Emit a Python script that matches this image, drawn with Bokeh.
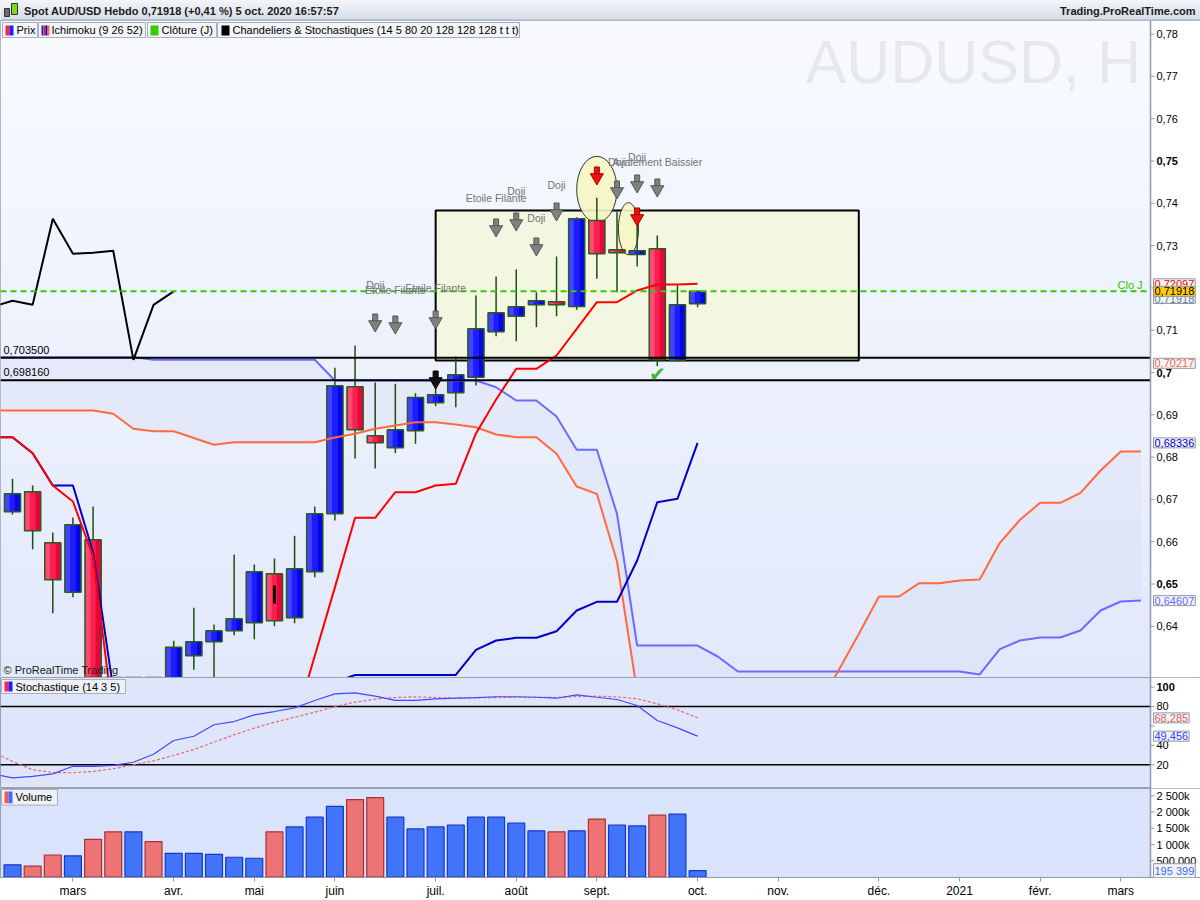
import numpy as np
from bokeh.plotting import figure
from bokeh.models import Range1d, FixedTicker, Label, BoxAnnotation
from bokeh.layouts import column
from bokeh.embed import file_html
from bokeh.resources import INLINE
from bokeh.core.properties import value

# ------------------------------------------------------------------ DATA
weeks = list(range(35))
opens = [0.66707, 0.67180, 0.65974, 0.64806, 0.66045, 0.62150, 0.58000, 0.61400, 0.60300, 0.63303,
         0.63634, 0.63894, 0.64083, 0.65241, 0.64201, 0.65288, 0.66660, 0.69662, 0.68504, 0.68220,
         0.68622, 0.69284, 0.69520, 0.69889, 0.70962, 0.71331, 0.71600, 0.71671, 0.71560, 0.73593,
         0.72901, 0.72790, 0.72924, 0.70284, 0.71624]
highs = [0.67487, 0.67329, 0.66217, 0.66572, 0.66832, 0.62660, 0.61990, 0.62140, 0.63657, 0.64437,
         0.64043, 0.65697, 0.65461, 0.65603, 0.66139, 0.66832, 0.70111, 0.70638, 0.69764, 0.69733,
         0.69511, 0.69900, 0.70378, 0.71820, 0.72270, 0.72435, 0.71898, 0.72742, 0.73671, 0.74130,
         0.73800, 0.73800, 0.73239, 0.72057, 0.71930]
lows = [0.66643, 0.65823, 0.64310, 0.64688, 0.61750, 0.55060, 0.57800, 0.59800, 0.59900, 0.62972,
        0.62530, 0.63790, 0.63695, 0.64002, 0.64073, 0.65161, 0.66500, 0.67967, 0.67730, 0.68092,
        0.68314, 0.69203, 0.69180, 0.69693, 0.70858, 0.70740, 0.71071, 0.71331, 0.71482, 0.72215,
        0.71898, 0.72506, 0.70150, 0.70250, 0.71544]
closes = [0.67132, 0.66258, 0.65099, 0.66400, 0.62160, 0.57740, 0.61390, 0.60300, 0.63506, 0.63634,
          0.63894, 0.64177, 0.65288, 0.64130, 0.65359, 0.66660, 0.69686, 0.68645, 0.68338, 0.68645,
          0.69409, 0.69473, 0.69946, 0.71033, 0.71411, 0.71553, 0.71695, 0.71600, 0.73634, 0.72806,
          0.72830, 0.72877, 0.70300, 0.71600, 0.71918]
prev_close = 0.66800
volumes = [376000, 337000, 678000, 648000, 1160000, 1391000, 1391000, 1090000, 729000, 729000,
           699000, 608000, 578000, 1391000, 1542000, 1843000, 2175000, 2386000, 2446000, 1843000,
           1482000, 1542000, 1602000, 1843000, 1843000, 1663000, 1422000, 1391000, 1422000, 1783000,
           1602000, 1572000, 1904000, 1934000, 195399]

ichi_x = list(range(-1, 35))
tenkan = [0.68471, 0.68471, 0.68092, 0.67329, 0.66950, 0.65650, 0.61840, 0.61280, 0.61000, 0.60950,
          0.60950, 0.60950, 0.60950, 0.60950, 0.60950, 0.61680, 0.63300, 0.64920, 0.66565, 0.66565,
          0.67170, 0.67170, 0.67329, 0.67369, 0.68558, 0.69362, 0.70087, 0.70087, 0.70402, 0.71033,
          0.71662, 0.71662, 0.71939, 0.72080, 0.72080, 0.72097]
kijun = [0.68471, 0.68471, 0.68092, 0.67329, 0.67329, 0.65752, 0.62520, 0.62680, 0.62680, 0.62680,
         0.62680, 0.62680, 0.62680, 0.62680, 0.62680, 0.62680, 0.62680, 0.62680, 0.62849, 0.62849,
         0.62849, 0.62849, 0.62849, 0.62849, 0.63444, 0.63664, 0.63728, 0.63728, 0.63884, 0.64374,
         0.64579, 0.64579, 0.65556, 0.66934, 0.67014, 0.68336]
cloud_x = list(range(-1, 57))
senkou_a = [0.69102, 0.69102, 0.69102, 0.69102, 0.69102, 0.69102, 0.69024, 0.68669, 0.68612, 0.68612,
            0.68452, 0.68291, 0.68352, 0.68352, 0.68352, 0.68352, 0.68352, 0.68463, 0.68551, 0.68669,
            0.68747, 0.68825, 0.68825, 0.68771, 0.68707, 0.68534, 0.68470, 0.68470, 0.68078, 0.67305,
            0.67132, 0.65532, 0.62450, 0.61500, 0.60800, 0.60500, 0.60500, 0.60500, 0.60700, 0.61000,
            0.61500, 0.62100, 0.62960, 0.63820, 0.64704, 0.64704, 0.65019, 0.65019, 0.65083, 0.65106,
            0.65974, 0.66517, 0.66920, 0.66920, 0.67156, 0.67683, 0.68132, 0.68132]
senkou_b = [0.70362, 0.70362, 0.70362, 0.70362, 0.70362, 0.70362, 0.70362, 0.70362, 0.70300, 0.70300,
            0.70300, 0.70300, 0.70300, 0.70300, 0.70300, 0.70300, 0.70300, 0.69811, 0.69811, 0.69811,
            0.69811, 0.69811, 0.69811, 0.69811, 0.69811, 0.69652, 0.69338, 0.69338, 0.68960, 0.68173,
            0.68173, 0.66660, 0.63546, 0.63546, 0.63546, 0.63546, 0.63286, 0.62931, 0.62931, 0.62931,
            0.62931, 0.62931, 0.62931, 0.62931, 0.62931, 0.62931, 0.62931, 0.62931, 0.62931, 0.62861,
            0.63459, 0.63664, 0.63735, 0.63735, 0.63901, 0.64374, 0.64586, 0.64607]

stoch_x = list(range(-1, 35))
stoch_k = [10.6, 6.6, 8.0, 10.7, 18.5, 18.4, 19.5, 22.6, 30.8, 45.0, 49.4, 61.2, 64.5, 71.4, 74.8,
           78.6, 86.2, 93.0, 94.0, 90.6, 86.2, 86.2, 87.9, 88.5, 89.2, 90.0, 90.0, 89.5, 88.5, 92.0,
           89.5, 87.2, 81.0, 65.6, 58.0, 49.456]
stoch_d = [33.7, 23.4, 14.9, 12.1, 11.8, 13.1, 15.9, 20.0, 24.1, 29.6, 35.7, 43.3, 50.9, 57.7, 63.8,
           69.0, 74.1, 80.0, 84.4, 87.5, 89.2, 90.0, 89.2, 88.5, 88.9, 89.2, 89.5, 89.5, 89.2, 90.2,
           90.6, 89.9, 87.9, 82.8, 76.6, 68.285]

level_hi = 0.703500
level_lo = 0.698160
daily_close = 0.71918
tenkan_last = 0.72097
kijun_last = 0.68336
level_orange = 0.70217
senkou_b_last = 0.64607
box_left, box_right, box_low, box_high = 21, 42, 0.70284, 0.73830

price_ticks = [0.64, 0.65, 0.66, 0.67, 0.68, 0.69, 0.70, 0.71, 0.72, 0.73, 0.74, 0.75, 0.76, 0.77, 0.78]
price_labels = ["0,64", "0,65", "0,66", "0,67", "0,68", "0,69", "0,7", "0,71", "0,72", "0,73",
                "0,74", "0,75", "0,76", "0,77", "0,78"]
stoch_ticks = [20, 40, 60, 80, 100]
stoch_labels = ["20", "40", "", "80", "100"]
vol_ticks = [500000, 1000000, 1500000, 2000000, 2500000]
vol_labels = ["500 000", "1 000k", "1 500k", "2 000k", "2 500k"]
month_ticks = [3, 8, 12, 16, 21, 25, 29, 34, 38, 43, 47, 51, 55]
month_labels = ["mars", "avr.", "mai", "juin", "juil.", "août", "sept.", "oct.", "nov.",
                "déc.", "2021", "févr.", "mars"]

gray_arrow_idx = [18, 19, 21, 24, 25, 26, 27, 30, 31, 32]
gray_arrow_price = [0.71206, 0.71158, 0.71277, 0.73452, 0.73593, 0.73002, 0.73830, 0.74350, 0.74492, 0.74397]
red_arrow_idx = [29, 31]
red_arrow_price = [0.74681, 0.73712]
black_arrow_idx = [21]
black_arrow_price = [0.69858]
pattern_idx = [18, 19, 21, 24, 25, 26, 27, 30, 31, 32]
pattern_text = ["Doji", "Etoile Filante", "Etoile Filante", "Etoile Filante", "Doji", "Doji", "Doji",
                "Doji", "Doji", "Avalement Baissier"]
pattern_price = [0.72080, 0.71939, 0.71986, 0.74137, 0.74279, 0.73641, 0.74444, 0.74988, 0.75083, 0.74988]

# ------------------------------------------------------------------ helpers
def X(px):            # reference pixel column -> week index
    return (px - 12.0) / 20.15

def Y(py):            # reference pixel row -> price (main panel)
    return 0.70 - (py - 372.0) / 4230.0

def S(py):            # reference pixel row -> stochastic value
    return 20.0 + (764.3 - py) / 0.972

def V(py):            # reference pixel row -> volume
    return (878.5 - py) / 0.0332 * 1000.0

W = 1200
AX = 1150             # pixel column of the price axis
FONT = "Liberation Sans"
AXC = "#8f99aa"
xr = Range1d(X(0), X(W))


def make_fig(h, yr, bg, xaxis=False):
    p = figure(width=W, height=h, x_range=xr, y_range=Range1d(*yr),
               output_backend="svg", toolbar_location=None,
               x_axis_location="below" if xaxis else None, y_axis_location=None,
               min_border_left=0, min_border_right=0, min_border_top=0,
               min_border_bottom=21 if xaxis else 0)
    p.background_fill_color = bg
    p.border_fill_color = "white"
    p.outline_line_color = "#98a2b3"
    p.xgrid.visible = False
    p.ygrid.visible = False
    return p


def right_axis(p, ticks, labels, bold=()):
    y0, y1 = p.y_range.start, p.y_range.end
    p.quad(left=[X(AX)], right=[X(W + 5)], bottom=[y0], top=[y1], fill_color="white", line_color=None)
    p.segment(x0=[X(AX)], y0=[y0], x1=[X(AX)], y1=[y1], line_color=AXC, line_width=1.5)
    p.segment(x0=[X(AX)] * len(ticks), y0=ticks, x1=[X(AX + 4)] * len(ticks), y1=ticks,
              line_color=AXC, line_width=1)
    norm = [(t, l) for t, l in zip(ticks, labels) if l and l not in bold]
    bld = [(t, l) for t, l in zip(ticks, labels) if l in bold]
    for grp, style in ((norm, "normal"), (bld, "bold")):
        if grp:
            p.text(x=[X(AX + 6)] * len(grp), y=[g[0] for g in grp], text=[g[1] for g in grp],
                   text_font=value(FONT), text_font_size="11px", text_font_style=value(style),
                   text_color="black", text_align="left", text_baseline="middle")


def value_box(p, y, txt, color, bg="#f1f3f6"):
    p.add_layout(Label(x=X(1153), y=y, text=txt, text_color=color, text_font=FONT,
                       text_font_size="11px", text_align="left", text_baseline="middle",
                       background_fill_color=bg, background_fill_alpha=1.0,
                       border_line_color="#8e99ab", border_line_alpha=1.0, padding=1))


def box(p, l, r, b, t, fill, line=None, level="annotation"):
    p.add_layout(BoxAnnotation(left=l, right=r, bottom=b, top=t, fill_color=fill, fill_alpha=1.0,
                               line_color=line, line_alpha=1.0 if line else 0.0, line_width=1,
                               level=level))


def label(p, x, y, txt, color="black", size="11px", align="left", style="normal"):
    p.add_layout(Label(x=x, y=y, text=txt, text_color=color, text_font=FONT, text_font_size=size,
                       text_align=align, text_baseline="middle", text_font_style=style))


def hline(p, yv, color, width, dash="solid"):
    p.segment(x0=[X(0)], y0=[yv], x1=[X(AX)], y1=[yv], line_color=color, line_width=width,
              line_dash=dash)


def fmt(v, nd):
    return f"{v:.{nd}f}".replace(".", ",")


def hexmix(c1, c2, t):
    a = [int(c1[i:i + 2], 16) for i in (1, 3, 5)]
    b = [int(c2[i:i + 2], 16) for i in (1, 3, 5)]
    return "#" + "".join(f"{round(a[k] + (b[k] - a[k]) * t):02x}" for k in range(3))

# ------------------------------------------------------------------ header
hdr = figure(width=W, height=20, x_range=Range1d(0, W), y_range=Range1d(0, 20),
             output_backend="svg", toolbar_location=None,
             x_axis_location=None, y_axis_location=None, min_border=0)
hdr.xgrid.visible = False
hdr.ygrid.visible = False
hdr.outline_line_color = None
hdr.background_fill_color = "#e4e9f0"
nb = 10
for k in range(nb):
    box(hdr, 0, W, 20 - (k + 1) * 2, 20 - k * 2, hexmix("#f3f5f9", "#d4dbe6", k / (nb - 1)),
        level="underlay")
hdr.segment(x0=[0], y0=[0.5], x1=[W], y1=[0.5], line_color="#a3abb8", line_width=1)
hdr.quad(left=[4], right=[9], bottom=[4], top=[12], fill_color="#6d6d6d", line_color="#333333")
hdr.quad(left=[11], right=[17], bottom=[6], top=[17], fill_color="#7fd624", line_color="#333333")
hdr.text(x=[23.5], y=[10], text=["Spot AUD/USD Hebdo 0,71918 (+0,41 %) 5 oct. 2020 16:57:57"],
         text_font=value(FONT), text_font_size="11px", text_font_style=value("bold"),
         text_color="#1b1b1b", text_align="left", text_baseline="middle")
hdr.text(x=[1195], y=[10], text=["Trading.ProRealTime.com"], text_font=value(FONT),
         text_font_size="11px", text_font_style=value("bold"), text_color="#1b1b1b",
         text_align="right", text_baseline="middle")

# ------------------------------------------------------------------ main panel
pm = make_fig(657, (Y(677), Y(20)), "#eef2fc")

y0, y1 = Y(677), Y(20)
nb = 24
for k in range(nb):
    b = y0 + (y1 - y0) * k / nb
    t = y0 + (y1 - y0) * (k + 1) / nb
    pm.add_layout(BoxAnnotation(left=X(0), right=X(AX), bottom=b, top=t,
                                fill_color=hexmix("#e2e9fb", "#f8fafe", k / (nb - 1)),
                                fill_alpha=1.0, line_alpha=0.0, level="underlay"))

pm.text(x=[X(805)], y=[Y(61)], text=["AUDUSD, H"], text_font=value(FONT), text_font_size="61px",
        text_color="#e6e8ee", text_align="left", text_baseline="middle")

# ichimoku cloud
pm.varea(x=cloud_x, y1=senkou_a, y2=senkou_b, fill_color="#d6dcf7", fill_alpha=0.35)

# rectangle of the "Chandeliers" indicator
pm.quad(left=[box_left], right=[box_right], bottom=[box_low], top=[box_high],
        fill_color="#f3f6e1", line_color="black", line_width=2)

# highlight ellipses
pm.ellipse(x=[29.0, 30.57], y=[0.7433, 0.7340], width=[2.0, 1.0], height=[0.0156, 0.0123],
           fill_color="#f6f6c4", fill_alpha=0.9, line_color="#333333", line_width=1)

# candles
up = [c >= o for o, c in zip(opens, closes)]
body_top = [max(o, c) for o, c in zip(opens, closes)]
body_bot = [min(o, c) for o, c in zip(opens, closes)]
pm.segment(x0=weeks, y0=lows, x1=weeks, y1=highs, line_color="#1f4d12", line_width=1.5)
shade = {True: ["#4444ff", "#1c1cff", "#0505e6"], False: ["#ff4a74", "#fb1f4f", "#e5063a"]}
bw = 0.8
for j, off in enumerate([-bw / 3, 0.0, bw / 3]):
    pm.vbar(x=[w + off for w in weeks], top=body_top, bottom=body_bot, width=bw / 3 + 0.02,
            fill_color=[shade[u][j] for u in up], line_color=None)
pm.vbar(x=weeks, top=body_top, bottom=body_bot, width=bw, fill_alpha=0.0,
        line_color="#2b5a1f", line_width=1.5)
pm.segment(x0=[13], y0=[Y(585)], x1=[13], y1=[Y(603)], line_color="black", line_width=3)

# ichimoku lines
pm.line(cloud_x, senkou_b, line_color="#6b6bff", line_width=2)
pm.line(cloud_x, senkou_a, line_color="#ff6a3d", line_width=2)
pm.line(ichi_x, kijun, line_color="#0000c8", line_width=2)
pm.line(ichi_x, tenkan, line_color="#ff0000", line_width=2)
chikou_x = [i - 26 for i in range(25, 35)]
chikou_y = closes[25:35]
pm.line(chikou_x, chikou_y, line_color="black", line_width=2)

# horizontal levels
hline(pm, daily_close, "#33cc00", 2, "6 4")
hline(pm, level_hi, "black", 2)
hline(pm, level_lo, "black", 2)
label(pm, X(3), Y(349.5), fmt(level_hi, 6))
label(pm, X(3), Y(371.5), fmt(level_lo, 6))
label(pm, X(1117), Y(284), "Clo J", color="#33bb00", size="11px")

# pattern arrows and labels
ppx = 1.0 / 4230.0


def arrows(xs, ys, fill, line):
    pm.rect(x=xs, y=[v + 3.5 * ppx for v in ys], width=5, height=8, width_units="screen",
            height_units="screen", fill_color=fill, line_color=line, line_width=1)
    pm.scatter(x=xs, y=[v - 3.0 * ppx for v in ys], marker="inverted_triangle", size=13,
               fill_color=fill, line_color=line, line_width=1)


arrows(gray_arrow_idx, gray_arrow_price, "#808080", "#555555")
arrows(red_arrow_idx, red_arrow_price, "#ee1111", "#aa0000")
arrows(black_arrow_idx, black_arrow_price, "#111111", "#000000")
pm.text(x=pattern_idx, y=pattern_price, text=pattern_text, text_font=value(FONT),
        text_font_size="10.5px", text_color="#747474", text_align="center", text_baseline="middle")
pm.text(x=[32], y=[Y(373)], text=["✔"], text_font=value("DejaVu Sans"), text_font_size="20px",
        text_color="#3dba3d", text_align="center", text_baseline="middle")

right_axis(pm, price_ticks, price_labels, bold=("0,75", "0,7", "0,65"))

label(pm, X(3), Y(669), "© ProRealTime Trading", color="#1a1a1a")

# legend row
box(pm, X(2), X(37), Y(37), Y(22), "#f3f5f8", "#a7afbb")
box(pm, X(5), X(9), Y(35), Y(25), "#ff1f4f")
box(pm, X(9), X(13), Y(35), Y(25), "#1c1cff")
label(pm, X(16), Y(29.5), "Prix")
box(pm, X(38), X(145), Y(37), Y(22), "#f3f5f8", "#a7afbb")
for k, c in enumerate(["#1c1cff", "#ff1f1f", "#0000a0", "#ff6a3d"]):
    box(pm, X(41 + 2 * k), X(43 + 2 * k), Y(35), Y(25), c)
label(pm, X(51), Y(29.5), "Ichimoku (9 26 52)")
box(pm, X(147), X(216), Y(37), Y(22), "#f3f5f8", "#a7afbb")
box(pm, X(150), X(158), Y(35), Y(25), "#33cc00")
label(pm, X(161), Y(29.5), "Clôture (J)")
box(pm, X(217), X(519), Y(37), Y(22), "#f3f5f8", "#a7afbb")
box(pm, X(221), X(229), Y(35), Y(25), "#000000")
label(pm, X(232), Y(29.5), "Chandeliers & Stochastiques (14 5 80 20 128 128 128 t t t)")

# value boxes on the price axis
value_box(pm, Y(298), fmt(daily_close, 5), "#6a7892")
value_box(pm, tenkan_last, fmt(tenkan_last, 5), "#ff0000")
value_box(pm, daily_close, fmt(daily_close, 5), "black", bg="#ffcc00")
value_box(pm, level_orange, fmt(level_orange, 5), "#ff6a3d")
value_box(pm, kijun_last, fmt(kijun_last, 5), "#0000cc")
value_box(pm, senkou_b_last, fmt(senkou_b_last, 5), "#6b6bff")

# ------------------------------------------------------------------ stochastic panel
ps = make_fig(111, (S(788), S(677)), "#dfe6fc")
hline(ps, 80, "black", 1.5)
hline(ps, 20, "black", 1.5)
ps.line(stoch_x, stoch_d, line_color="#e46a6a", line_width=1.2, line_dash="3 2")
ps.line(stoch_x, stoch_k, line_color="#4646ff", line_width=1.2)
right_axis(ps, stoch_ticks, stoch_labels, bold=("100",))
box(ps, X(1), X(125), S(693), S(679), "#eef1f6", "#a7afbb")
box(ps, X(4), X(8), S(691), S(681), "#ff1f4f")
box(ps, X(8), X(12), S(691), S(681), "#1c1cff")
label(ps, X(15), S(686), "Stochastique (14 3 5)")
value_box(ps, stoch_d[-1], fmt(stoch_d[-1], 3), "#e06060")
value_box(ps, stoch_k[-1], fmt(stoch_k[-1], 3), "#3b3bff")

# ------------------------------------------------------------------ volume panel
pv = make_fig(112, (V(879), V(788)), "#d9e3fc", xaxis=True)
xa = pv.xaxis[0]
xa.ticker = FixedTicker(ticks=month_ticks)
xa.major_label_overrides = {t: s for t, s in zip(month_ticks, month_labels)}
xa.major_label_text_font = FONT
xa.major_label_text_font_size = "12px"
xa.major_label_text_color = "black"
xa.axis_line_color = AXC
xa.major_tick_line_color = AXC
xa.major_tick_out = 4
xa.major_tick_in = 0
xa.minor_tick_out = 0
xa.minor_tick_in = 0
xa.major_label_standoff = 2

vol_up = [c >= (closes[i - 1] if i > 0 else prev_close) for i, c in enumerate(closes)]
pv.vbar(x=weeks, top=volumes, bottom=0, width=0.84,
        fill_color=["#4274fa" if u else "#ec7474" for u in vol_up],
        line_color=["#1438c8" if u else "#b03030" for u in vol_up], line_width=1.2)
right_axis(pv, vol_ticks, vol_labels)
box(pv, X(1), X(57), V(805), V(789), "#eef1f6", "#a7afbb")
box(pv, X(4), X(8), V(803), V(791), "#ee5a5a")
box(pv, X(8), X(12), V(803), V(791), "#3b6cf5")
label(pv, X(15), V(797), "Volume")
value_box(pv, volumes[-1], f"{volumes[-1]:,}".replace(",", " "), "#3b6cf5")

layout = column(hdr, pm, ps, pv, spacing=0)
open("out.html", "w").write(file_html(layout, INLINE))
